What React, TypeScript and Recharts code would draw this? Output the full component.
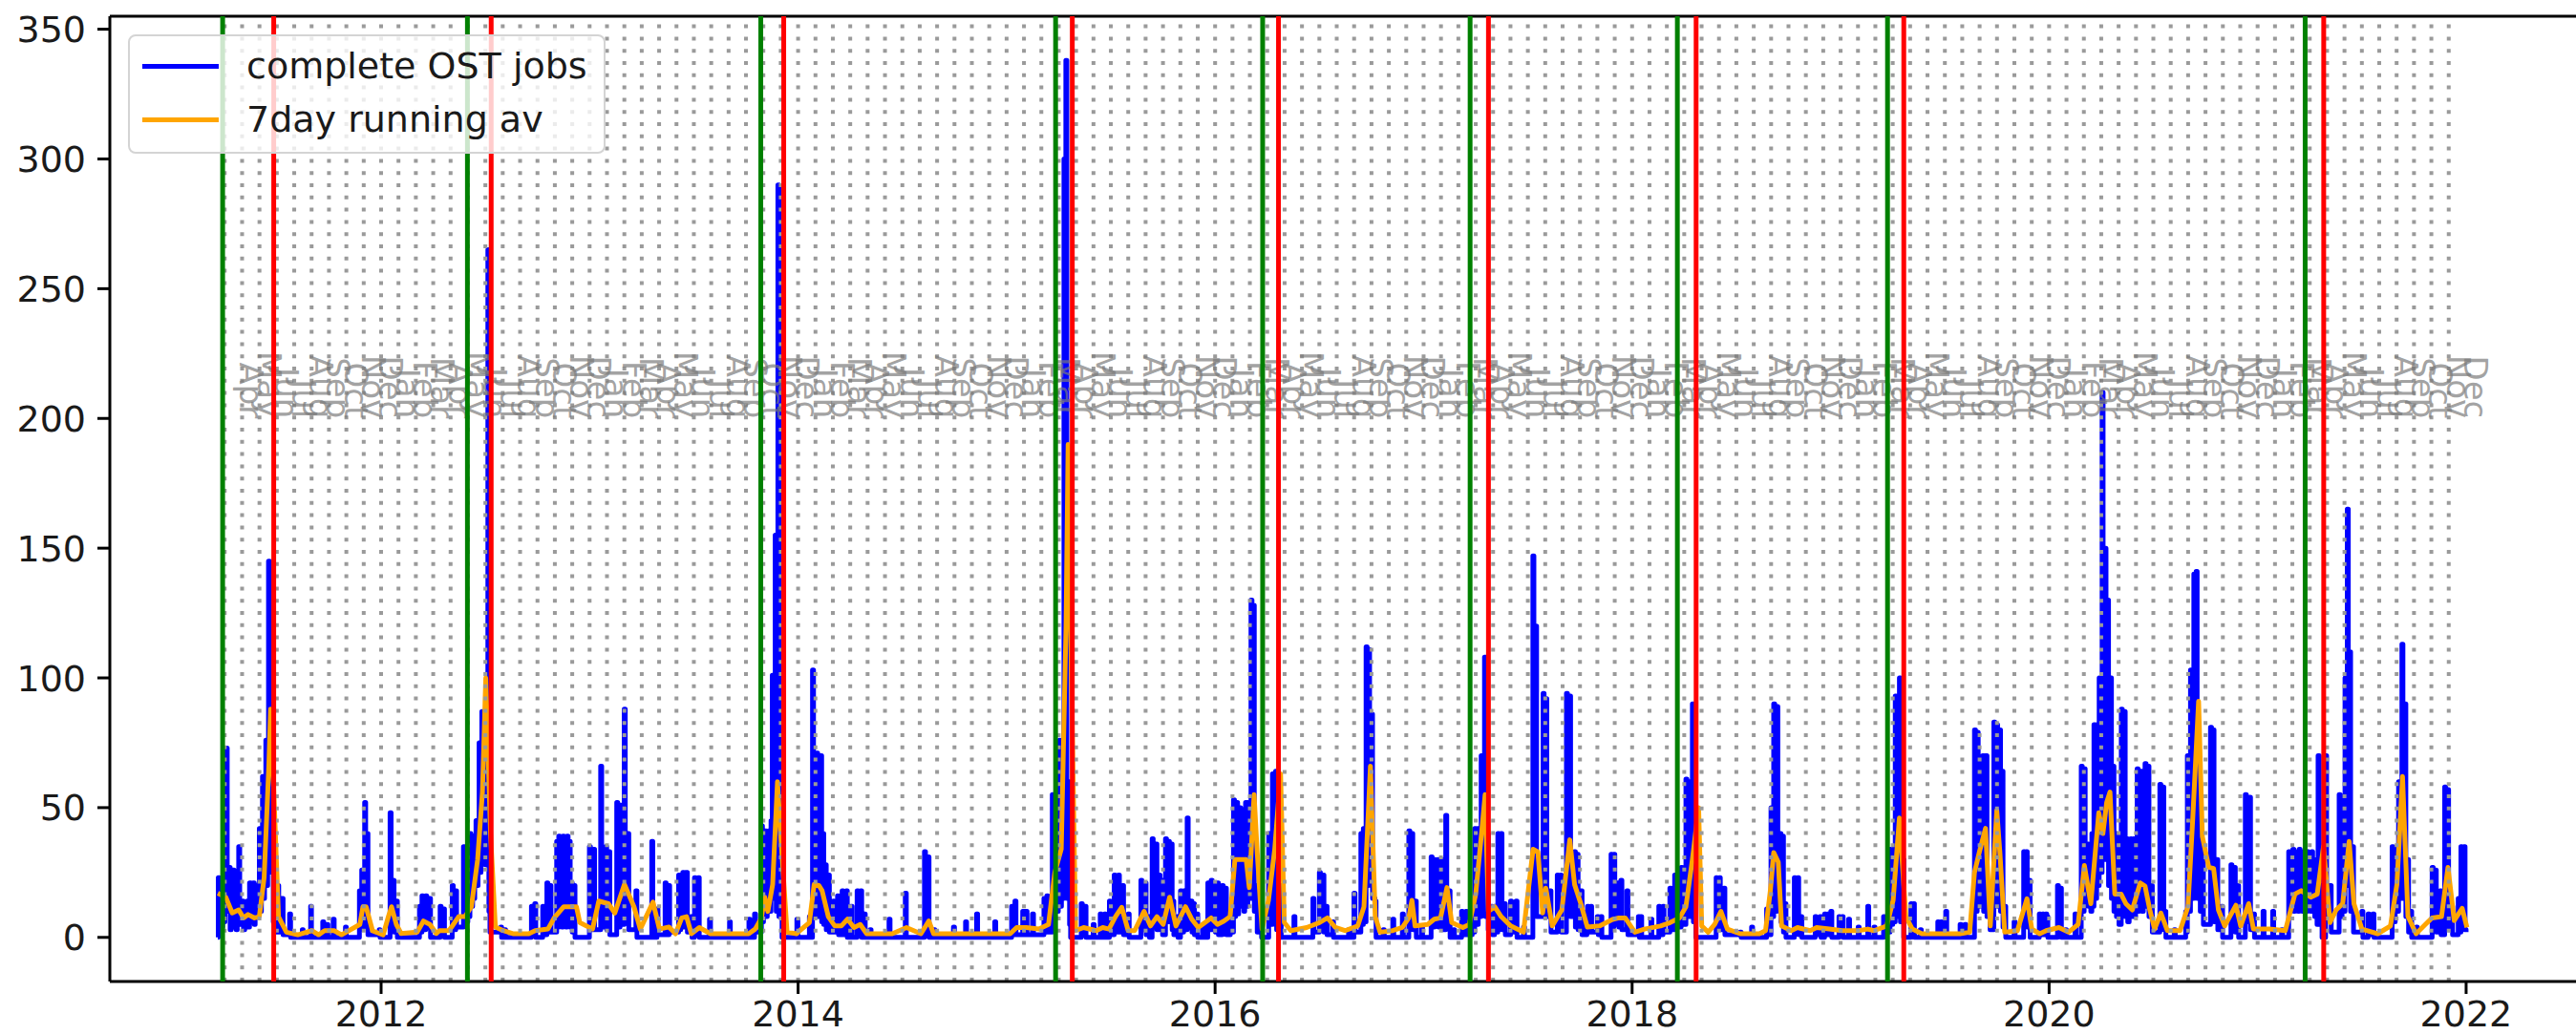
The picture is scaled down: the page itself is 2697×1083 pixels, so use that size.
import React from "react";
import {
  ComposedChart,
  Line,
  Scatter,
  XAxis,
  YAxis,
  ReferenceLine,
  Legend
} from "recharts";

const FONT = "DejaVu Sans";

// complete OST jobs per day, [decimal year, jobs]
const jobs2011 = [
  [2011.217, 0], [2011.219, 23], [2011.225, 5], [2011.23, 18], [2011.235, 4], [2011.24, 20], [2011.245, 6],
  [2011.251, 22], [2011.256, 73], [2011.262, 10], [2011.27, 27], [2011.276, 3], [2011.281, 16], [2011.286, 4],
  [2011.29, 26], [2011.295, 4], [2011.3, 14], [2011.305, 3], [2011.31, 15], [2011.317, 35], [2011.322, 5],
  [2011.327, 12], [2011.333, 14], [2011.34, 3], [2011.346, 12], [2011.351, 4], [2011.357, 14], [2011.363, 4],
  [2011.369, 21], [2011.376, 6], [2011.381, 15], [2011.386, 21], [2011.392, 5], [2011.396, 14], [2011.401, 20],
  [2011.407, 8], [2011.411, 18], [2011.416, 42], [2011.421, 10], [2011.426, 25], [2011.431, 62], [2011.436, 15],
  [2011.441, 30], [2011.447, 76], [2011.452, 20], [2011.456, 40], [2011.46, 145], [2011.465, 30], [2011.47, 90],
  [2011.474, 25], [2011.478, 40], [2011.483, 6], [2011.492, 18], [2011.497, 2], [2011.504, 20], [2011.509, 2],
  [2011.523, 15], [2011.53, 1], [2011.561, 9], [2011.566, 0], [2011.622, 3], [2011.626, 0], [2011.662, 12],
  [2011.666, 0], [2011.72, 6], [2011.725, 0], [2011.74, 5], [2011.745, 0], [2011.77, 7], [2011.775, 0],
  [2011.829, 4], [2011.833, 0], [2011.896, 18], [2011.9, 3], [2011.907, 26], [2011.912, 5], [2011.921, 52],
  [2011.926, 4], [2011.932, 40], [2011.937, 1], [2011.991, 3], [2011.995, 0]
];
const jobs2012 = [
  [2012.043, 48], [2012.048, 6], [2012.057, 22], [2012.062, 2], [2012.073, 14], [2012.078, 0], [2012.184, 12],
  [2012.188, 2], [2012.196, 16], [2012.201, 3], [2012.214, 16], [2012.219, 4], [2012.232, 15], [2012.237, 0],
  [2012.283, 12], [2012.288, 1], [2012.299, 11], [2012.304, 0], [2012.341, 20], [2012.346, 3], [2012.358, 18],
  [2012.362, 4], [2012.395, 35], [2012.4, 8], [2012.405, 25], [2012.41, 6], [2012.416, 30], [2012.421, 8],
  [2012.426, 40], [2012.431, 12], [2012.439, 39], [2012.444, 15], [2012.449, 35], [2012.455, 45], [2012.46, 20],
  [2012.465, 40], [2012.47, 75], [2012.475, 25], [2012.479, 50], [2012.483, 87], [2012.488, 30], [2012.492, 60],
  [2012.496, 86], [2012.5, 28], [2012.506, 60], [2012.512, 265], [2012.517, 10], [2012.522, 2], [2012.574, 4],
  [2012.578, 0], [2012.592, 3], [2012.597, 0], [2012.721, 12], [2012.726, 1], [2012.737, 13], [2012.742, 0],
  [2012.775, 12], [2012.78, 1], [2012.795, 21], [2012.8, 2], [2012.81, 20], [2012.815, 2], [2012.842, 37],
  [2012.847, 4], [2012.852, 39], [2012.857, 5], [2012.862, 38], [2012.867, 4], [2012.872, 39], [2012.877, 5],
  [2012.882, 38], [2012.887, 4], [2012.892, 39], [2012.897, 5], [2012.902, 37], [2012.907, 4], [2012.912, 21],
  [2012.917, 2], [2012.925, 20], [2012.93, 0], [2012.999, 35]
];
const jobs2013 = [
  [2013.004, 3], [2013.019, 34], [2013.024, 3], [2013.053, 66], [2013.058, 4], [2013.077, 35], [2013.082, 3],
  [2013.092, 33], [2013.097, 1], [2013.13, 52], [2013.135, 4], [2013.146, 51], [2013.151, 5], [2013.166, 88],
  [2013.171, 6], [2013.183, 40], [2013.188, 3], [2013.222, 18], [2013.227, 0], [2013.298, 37], [2013.303, 0],
  [2013.323, 11], [2013.328, 1], [2013.362, 21], [2013.367, 1], [2013.381, 20], [2013.384, 2], [2013.427, 24],
  [2013.432, 3], [2013.437, 22], [2013.442, 4], [2013.447, 25], [2013.452, 4], [2013.458, 22], [2013.464, 25],
  [2013.469, 2], [2013.486, 8], [2013.491, 0], [2013.503, 23], [2013.508, 2], [2013.521, 23], [2013.526, 0],
  [2013.575, 7], [2013.58, 0], [2013.671, 6], [2013.675, 0], [2013.764, 7], [2013.769, 0], [2013.791, 9],
  [2013.796, 2], [2013.824, 43], [2013.829, 6], [2013.834, 30], [2013.842, 41], [2013.847, 8], [2013.852, 30],
  [2013.858, 41], [2013.863, 10], [2013.87, 45], [2013.876, 101], [2013.881, 15], [2013.885, 50], [2013.89, 155],
  [2013.895, 10], [2013.899, 60], [2013.903, 290], [2013.908, 8], [2013.918, 30], [2013.923, 0], [2013.994, 7],
  [2013.999, 0]
];
const jobs2014 = [
  [2014.054, 8], [2014.058, 0], [2014.069, 103], [2014.074, 10], [2014.079, 71], [2014.084, 8], [2014.089, 71],
  [2014.094, 8], [2014.099, 70], [2014.104, 8], [2014.108, 70], [2014.113, 6], [2014.118, 40], [2014.123, 5],
  [2014.13, 28], [2014.135, 3], [2014.14, 24], [2014.15, 2], [2014.168, 14], [2014.173, 2], [2014.189, 16],
  [2014.194, 1], [2014.211, 18], [2014.216, 1], [2014.231, 18], [2014.236, 0], [2014.254, 12], [2014.259, 0],
  [2014.283, 18], [2014.288, 1], [2014.3, 18], [2014.305, 0], [2014.317, 9], [2014.322, 0], [2014.345, 3],
  [2014.35, 0], [2014.436, 7], [2014.441, 0], [2014.514, 17], [2014.519, 0], [2014.606, 33], [2014.611, 2],
  [2014.623, 31], [2014.628, 0], [2014.651, 3], [2014.656, 0], [2014.745, 4], [2014.75, 0], [2014.803, 6],
  [2014.808, 0], [2014.856, 9], [2014.861, 0], [2014.943, 6], [2014.948, 0]
];
const jobs2015 = [
  [2015.024, 12], [2015.029, 1], [2015.04, 14], [2015.045, 1], [2015.077, 10], [2015.082, 1], [2015.093, 10],
  [2015.098, 1], [2015.124, 9], [2015.129, 1], [2015.179, 15], [2015.184, 2], [2015.193, 16], [2015.198, 2],
  [2015.219, 55], [2015.224, 8], [2015.229, 40], [2015.234, 10], [2015.239, 64], [2015.244, 10], [2015.248, 50],
  [2015.253, 76], [2015.258, 12], [2015.263, 75], [2015.268, 15], [2015.275, 300], [2015.28, 20], [2015.284, 338],
  [2015.289, 15], [2015.297, 60], [2015.302, 5], [2015.307, 0], [2015.358, 13], [2015.363, 1], [2015.376, 12],
  [2015.381, 0], [2015.415, 5], [2015.42, 0], [2015.449, 9], [2015.454, 0], [2015.47, 9], [2015.475, 0],
  [2015.493, 14], [2015.498, 1], [2015.516, 24], [2015.521, 2], [2015.536, 24], [2015.541, 2], [2015.556, 20],
  [2015.561, 1], [2015.583, 9], [2015.588, 0], [2015.644, 22], [2015.649, 3], [2015.664, 21], [2015.669, 1],
  [2015.68, 8], [2015.685, 0], [2015.698, 38], [2015.703, 5], [2015.716, 36], [2015.721, 3], [2015.731, 24],
  [2015.736, 4], [2015.743, 22], [2015.748, 1], [2015.762, 38], [2015.767, 6], [2015.776, 37], [2015.781, 6],
  [2015.789, 36], [2015.794, 3], [2015.797, 14], [2015.802, 1], [2015.817, 8], [2015.822, 0], [2015.834, 18],
  [2015.839, 2], [2015.849, 18], [2015.854, 3], [2015.866, 46], [2015.871, 4], [2015.884, 14], [2015.889, 2],
  [2015.896, 13], [2015.901, 1], [2015.912, 9], [2015.917, 0], [2015.942, 5], [2015.947, 0], [2015.965, 21],
  [2015.97, 3], [2015.981, 22], [2015.986, 3], [2015.996, 21]
];
const jobs2016 = [
  [2016.001, 2], [2016.011, 21], [2016.016, 1], [2016.034, 20], [2016.039, 2], [2016.049, 19], [2016.054, 1],
  [2016.073, 10], [2016.078, 2], [2016.088, 53], [2016.093, 8], [2016.098, 40], [2016.103, 52], [2016.108, 9],
  [2016.113, 35], [2016.118, 50], [2016.123, 12], [2016.128, 38], [2016.133, 49], [2016.138, 10], [2016.142, 30],
  [2016.146, 52], [2016.151, 12], [2016.157, 40], [2016.162, 52], [2016.167, 15], [2016.172, 130], [2016.177, 20],
  [2016.183, 128], [2016.188, 10], [2016.197, 20], [2016.202, 2], [2016.218, 12], [2016.223, 0], [2016.257, 40],
  [2016.262, 5], [2016.275, 63], [2016.28, 6], [2016.29, 64], [2016.295, 3], [2016.312, 20], [2016.317, 0],
  [2016.378, 8], [2016.383, 0], [2016.469, 15], [2016.474, 2], [2016.5, 25], [2016.505, 3], [2016.517, 24],
  [2016.522, 2], [2016.532, 12], [2016.537, 1], [2016.563, 6], [2016.568, 0], [2016.64, 3], [2016.645, 0],
  [2016.666, 17], [2016.671, 2], [2016.699, 40], [2016.704, 5], [2016.711, 42], [2016.716, 6], [2016.724, 112],
  [2016.729, 20], [2016.736, 111], [2016.741, 25], [2016.75, 86], [2016.755, 15], [2016.767, 14], [2016.772, 0],
  [2016.806, 3], [2016.811, 0], [2016.852, 7], [2016.857, 0], [2016.898, 9], [2016.903, 0], [2016.929, 41],
  [2016.934, 6], [2016.943, 40], [2016.948, 3], [2016.96, 14], [2016.965, 0], [2016.99, 4], [2016.995, 0]
];
const jobs2017 = [
  [2017.036, 31], [2017.041, 4], [2017.052, 30], [2017.057, 5], [2017.067, 30], [2017.072, 4], [2017.082, 30],
  [2017.087, 3], [2017.106, 47], [2017.111, 5], [2017.122, 18], [2017.127, 0], [2017.143, 3], [2017.148, 0],
  [2017.182, 10], [2017.187, 1], [2017.203, 10], [2017.208, 1], [2017.233, 12], [2017.238, 2], [2017.245, 42],
  [2017.25, 5], [2017.262, 42], [2017.267, 8], [2017.276, 70], [2017.281, 10], [2017.292, 108], [2017.297, 8],
  [2017.305, 40], [2017.31, 3], [2017.325, 12], [2017.33, 1], [2017.34, 12], [2017.345, 2], [2017.356, 40],
  [2017.361, 4], [2017.371, 40], [2017.376, 3], [2017.387, 13], [2017.392, 1], [2017.417, 14], [2017.422, 2],
  [2017.443, 14], [2017.448, 0], [2017.479, 4], [2017.484, 0], [2017.524, 147], [2017.529, 10], [2017.537, 120],
  [2017.542, 8], [2017.573, 94], [2017.578, 10], [2017.586, 92], [2017.591, 8], [2017.606, 18], [2017.611, 2],
  [2017.641, 24], [2017.646, 3], [2017.656, 24], [2017.661, 2], [2017.685, 94], [2017.69, 10], [2017.7, 93],
  [2017.705, 8], [2017.723, 33], [2017.728, 4], [2017.736, 32], [2017.741, 3], [2017.755, 18], [2017.76, 1],
  [2017.783, 10], [2017.786, 12], [2017.791, 2], [2017.801, 12], [2017.806, 2], [2017.833, 8], [2017.838, 1],
  [2017.85, 8], [2017.855, 0], [2017.899, 32], [2017.904, 4], [2017.912, 32], [2017.917, 5], [2017.931, 21],
  [2017.936, 4], [2017.946, 22], [2017.951, 3], [2017.975, 18], [2017.98, 1]
];
const jobs2018 = [
  [2018.03, 8], [2018.035, 0], [2018.041, 8], [2018.046, 0], [2018.09, 7], [2018.095, 0], [2018.128, 12],
  [2018.133, 1], [2018.148, 12], [2018.153, 2], [2018.181, 19], [2018.186, 3], [2018.204, 24], [2018.209, 4],
  [2018.235, 27], [2018.24, 5], [2018.258, 61], [2018.263, 8], [2018.274, 60], [2018.279, 8], [2018.289, 90],
  [2018.294, 6], [2018.301, 40], [2018.306, 0], [2018.403, 23], [2018.408, 3], [2018.418, 23], [2018.423, 3],
  [2018.44, 19], [2018.445, 1], [2018.518, 2], [2018.523, 0], [2018.573, 4], [2018.578, 0], [2018.645, 11],
  [2018.65, 1], [2018.666, 50], [2018.671, 8], [2018.679, 90], [2018.684, 10], [2018.694, 89], [2018.699, 15],
  [2018.709, 40], [2018.714, 6], [2018.721, 39], [2018.726, 2], [2018.733, 13], [2018.738, 0], [2018.778, 23],
  [2018.783, 3], [2018.794, 23], [2018.799, 1], [2018.809, 8], [2018.814, 0], [2018.878, 8], [2018.883, 1],
  [2018.901, 8], [2018.906, 0], [2018.923, 9], [2018.928, 1], [2018.937, 9], [2018.942, 1], [2018.953, 10],
  [2018.958, 0], [2018.992, 8], [2018.997, 1]
];
const jobs2019 = [
  [2019.007, 8], [2019.012, 0], [2019.038, 7], [2019.043, 0], [2019.084, 4], [2019.089, 0], [2019.13, 12],
  [2019.135, 0], [2019.16, 4], [2019.165, 0], [2019.206, 8], [2019.211, 1], [2019.222, 8], [2019.227, 2],
  [2019.237, 34], [2019.242, 5], [2019.25, 34], [2019.255, 6], [2019.262, 93], [2019.267, 8], [2019.282, 100],
  [2019.287, 6], [2019.298, 30], [2019.303, 0], [2019.337, 13], [2019.342, 2], [2019.349, 13], [2019.354, 0],
  [2019.382, 3], [2019.387, 0], [2019.466, 6], [2019.471, 0], [2019.481, 6], [2019.486, 0], [2019.504, 10],
  [2019.509, 0], [2019.573, 5], [2019.578, 0], [2019.596, 5], [2019.601, 0], [2019.642, 80], [2019.647, 10],
  [2019.655, 79], [2019.66, 12], [2019.667, 50], [2019.672, 15], [2019.681, 70], [2019.686, 10], [2019.697, 70],
  [2019.702, 8], [2019.712, 21], [2019.717, 3], [2019.735, 83], [2019.74, 15], [2019.748, 82], [2019.753, 12],
  [2019.762, 80], [2019.767, 10], [2019.774, 64], [2019.779, 4], [2019.787, 12], [2019.792, 0], [2019.832, 6],
  [2019.837, 0], [2019.878, 33], [2019.883, 5], [2019.89, 33], [2019.895, 4], [2019.904, 22], [2019.909, 0],
  [2019.953, 9], [2019.958, 1], [2019.969, 9], [2019.974, 1], [2019.984, 9], [2019.989, 8], [2019.994, 0]
];
const jobs2020 = [
  [2020.04, 20], [2020.045, 2], [2020.054, 19], [2020.059, 0], [2020.078, 3], [2020.083, 0], [2020.124, 9],
  [2020.129, 0], [2020.154, 66], [2020.159, 10], [2020.168, 65], [2020.173, 15], [2020.184, 36], [2020.189, 12],
  [2020.195, 30], [2020.2, 10], [2020.205, 40], [2020.21, 12], [2020.215, 82], [2020.22, 15], [2020.228, 82],
  [2020.233, 20], [2020.24, 100], [2020.245, 25], [2020.254, 210], [2020.259, 30], [2020.268, 150], [2020.273, 30],
  [2020.28, 130], [2020.285, 20], [2020.294, 100], [2020.299, 15], [2020.306, 66], [2020.311, 10], [2020.318, 40],
  [2020.323, 8], [2020.33, 36], [2020.335, 5], [2020.346, 88], [2020.351, 10], [2020.36, 87], [2020.365, 8],
  [2020.372, 38], [2020.377, 6], [2020.384, 30], [2020.391, 38], [2020.396, 8], [2020.404, 38], [2020.409, 8],
  [2020.415, 30], [2020.422, 65], [2020.427, 10], [2020.433, 40], [2020.44, 64], [2020.445, 10], [2020.452, 40],
  [2020.46, 67], [2020.465, 12], [2020.469, 40], [2020.474, 66], [2020.479, 8], [2020.49, 20], [2020.495, 2],
  [2020.531, 59], [2020.536, 5], [2020.545, 58], [2020.55, 3], [2020.555, 10], [2020.56, 0], [2020.6, 3],
  [2020.605, 0], [2020.655, 10], [2020.66, 2], [2020.663, 70], [2020.668, 10], [2020.678, 103], [2020.683, 15],
  [2020.694, 140], [2020.699, 20], [2020.705, 141], [2020.71, 15], [2020.72, 60], [2020.725, 10], [2020.735, 35],
  [2020.74, 5], [2020.774, 81], [2020.779, 10], [2020.786, 80], [2020.791, 6], [2020.804, 30], [2020.809, 3],
  [2020.827, 12], [2020.832, 0], [2020.872, 28], [2020.877, 3], [2020.888, 27], [2020.893, 2], [2020.904, 20],
  [2020.909, 0], [2020.941, 55], [2020.946, 6], [2020.961, 54], [2020.966, 3], [2020.98, 9], [2020.985, 0]
];
const jobs2021 = [
  [2021.026, 10], [2021.031, 0], [2021.072, 10], [2021.077, 0], [2021.115, 3], [2021.12, 0], [2021.149, 33],
  [2021.154, 10], [2021.159, 33], [2021.164, 12], [2021.169, 34], [2021.174, 10], [2021.179, 33], [2021.184, 12],
  [2021.189, 33], [2021.194, 10], [2021.199, 34], [2021.204, 12], [2021.209, 33], [2021.214, 10], [2021.219, 32],
  [2021.224, 12], [2021.229, 33], [2021.234, 10], [2021.239, 33], [2021.244, 12], [2021.249, 32], [2021.254, 10],
  [2021.259, 33], [2021.264, 10], [2021.269, 30], [2021.274, 8], [2021.28, 30], [2021.285, 5], [2021.29, 70],
  [2021.296, 5], [2021.304, 20], [2021.309, 0], [2021.326, 70], [2021.331, 8], [2021.348, 20], [2021.353, 2],
  [2021.391, 55], [2021.396, 8], [2021.405, 54], [2021.41, 10], [2021.419, 100], [2021.424, 20], [2021.43, 165],
  [2021.435, 20], [2021.441, 110], [2021.446, 10], [2021.455, 35], [2021.46, 2], [2021.5, 10], [2021.505, 0],
  [2021.53, 9], [2021.535, 1], [2021.553, 9], [2021.558, 0], [2021.645, 35], [2021.65, 6], [2021.66, 34],
  [2021.665, 10], [2021.676, 60], [2021.681, 15], [2021.692, 113], [2021.697, 15], [2021.706, 90], [2021.711, 8],
  [2021.719, 30], [2021.724, 2], [2021.734, 10], [2021.739, 0], [2021.761, 4], [2021.766, 0], [2021.837, 27],
  [2021.842, 4], [2021.852, 26], [2021.857, 2], [2021.875, 18], [2021.88, 1], [2021.897, 58], [2021.902, 6],
  [2021.911, 57], [2021.916, 3], [2021.93, 12], [2021.935, 1], [2021.962, 15], [2021.967, 2], [2021.975, 35],
  [2021.98, 5], [2021.99, 35], [2021.995, 3], [2022.0, 2]
];

// 7 day running average, [decimal year, jobs]
const avg2011 = [
  [2011.217, 17], [2011.255, 15.5], [2011.286, 9.4], [2011.317, 10.6], [2011.34, 7.5], [2011.362, 8.8],
  [2011.393, 7.5], [2011.416, 8], [2011.439, 23], [2011.462, 67], [2011.47, 88], [2011.485, 57], [2011.508, 8],
  [2011.546, 2], [2011.6, 1], [2011.668, 2.6], [2011.7, 1], [2011.729, 2.6], [2011.775, 2.6], [2011.81, 1],
  [2011.898, 5], [2011.913, 11.8], [2011.928, 11.8], [2011.959, 2.5]
];
const avg2012 = [
  [2012.01, 1], [2012.035, 8], [2012.05, 11.8], [2012.073, 5], [2012.096, 1.5], [2012.173, 2], [2012.203, 6.3],
  [2012.234, 5], [2012.265, 1.5], [2012.28, 2.6], [2012.326, 2.6], [2012.372, 8], [2012.402, 8], [2012.433, 11.8],
  [2012.463, 30], [2012.486, 56], [2012.502, 100], [2012.525, 40], [2012.548, 4], [2012.586, 2.6], [2012.632, 1.4],
  [2012.708, 1.4], [2012.739, 2.6], [2012.8, 3.2], [2012.83, 7.5], [2012.876, 11.8], [2012.937, 11.8],
  [2012.953, 5.7]
];
const avg2013 = [
  [2013.014, 3.2], [2013.044, 14], [2013.09, 13], [2013.121, 9.4], [2013.167, 20.4], [2013.213, 11.8],
  [2013.243, 3.2], [2013.304, 13.6], [2013.335, 3.2], [2013.381, 4], [2013.412, 1.4], [2013.442, 7.5],
  [2013.465, 8], [2013.488, 1.4], [2013.526, 3.8], [2013.58, 1.4], [2013.763, 1.4], [2013.794, 3.2],
  [2013.824, 7.5], [2013.84, 15.5], [2013.855, 10], [2013.878, 20.4], [2013.901, 60], [2013.916, 40],
  [2013.947, 2], [2013.993, 1.4]
];
const avg2014 = [
  [2014.008, 2.6], [2014.054, 5.7], [2014.077, 20.4], [2014.1, 20], [2014.115, 18], [2014.145, 8], [2014.176, 4.4],
  [2014.207, 4.4], [2014.237, 7], [2014.268, 3.8], [2014.298, 5], [2014.329, 1.4], [2014.451, 1.4],
  [2014.52, 3.8], [2014.589, 1.4], [2014.627, 6.3], [2014.65, 1.4]
];
const avg2015 = [
  [2015.017, 1.4], [2015.048, 3.8], [2015.094, 3.8], [2015.155, 3.2], [2015.201, 5], [2015.231, 25],
  [2015.262, 34], [2015.285, 120], [2015.295, 190], [2015.311, 100], [2015.331, 2.6], [2015.369, 3.8],
  [2015.43, 2.6], [2015.461, 3.8], [2015.491, 3.2], [2015.522, 8], [2015.552, 11.6], [2015.583, 2.6],
  [2015.614, 2.6], [2015.659, 10], [2015.69, 4.4], [2015.721, 8], [2015.751, 5], [2015.782, 15.5],
  [2015.812, 4.4], [2015.858, 11.8], [2015.889, 6.9], [2015.919, 3.8], [2015.981, 7.5]
];
const avg2016 = [
  [2016.011, 5], [2016.042, 6.3], [2016.072, 8], [2016.095, 30], [2016.149, 30], [2016.164, 19.2],
  [2016.187, 55], [2016.202, 32.7], [2016.225, 3.2], [2016.256, 14.3], [2016.286, 34], [2016.314, 63],
  [2016.332, 5.7], [2016.363, 2.6], [2016.439, 3.8], [2016.5, 5.7], [2016.539, 7.5], [2016.577, 3.8],
  [2016.623, 2.6], [2016.684, 4.4], [2016.714, 11.8], [2016.745, 66], [2016.768, 8], [2016.791, 2],
  [2016.852, 2.6], [2016.898, 3.8], [2016.929, 7.5], [2016.944, 14.3], [2016.959, 4.4]
];
const avg2017 = [
  [2017.02, 5], [2017.051, 7], [2017.081, 7.5], [2017.112, 19.2], [2017.135, 5.7], [2017.188, 3.8],
  [2017.219, 5], [2017.25, 16.7], [2017.28, 42], [2017.295, 55], [2017.311, 10], [2017.341, 11.8],
  [2017.372, 8], [2017.418, 4.4], [2017.479, 2], [2017.525, 34], [2017.548, 33], [2017.571, 9.4],
  [2017.586, 19], [2017.617, 4.4], [2017.663, 10.6], [2017.701, 37.6], [2017.724, 20.4], [2017.754, 13],
  [2017.785, 4], [2017.845, 4.4], [2017.906, 6.9], [2017.937, 7.5], [2017.967, 7.5]
];
const avg2018 = [
  [2018.013, 2], [2018.059, 3.2], [2018.136, 4.4], [2018.182, 5.7], [2018.227, 7.5], [2018.258, 11.8],
  [2018.289, 30], [2018.319, 50], [2018.334, 4.4], [2018.365, 2], [2018.396, 5], [2018.426, 10],
  [2018.457, 3.2], [2018.518, 1.4], [2018.61, 1.4], [2018.64, 2.6], [2018.663, 18], [2018.679, 32.7],
  [2018.701, 29], [2018.717, 4.4], [2018.763, 2.6], [2018.793, 3.8], [2018.854, 2.6], [2018.885, 3.8],
  [2018.946, 3.2]
];
const avg2019 = [
  [2019.007, 2.6], [2019.084, 2.6], [2019.13, 3.2], [2019.16, 2.6], [2019.221, 4.4], [2019.252, 14.3],
  [2019.282, 46], [2019.313, 8], [2019.344, 3.2], [2019.39, 1.4], [2019.573, 1.4], [2019.619, 2],
  [2019.642, 25], [2019.665, 32.7], [2019.695, 42], [2019.718, 4.4], [2019.749, 49], [2019.764, 32.7],
  [2019.787, 2], [2019.848, 2.6], [2019.894, 14.9], [2019.917, 3.2], [2019.955, 1.4], [2019.986, 2.6]
];
const avg2020 = [
  [2020.047, 3.8], [2020.093, 2], [2020.139, 5], [2020.169, 27.7], [2020.2, 13], [2020.238, 48],
  [2020.258, 40], [2020.276, 52], [2020.292, 56], [2020.315, 16.7], [2020.345, 16.7], [2020.368, 13],
  [2020.399, 10.6], [2020.437, 21], [2020.46, 19.8], [2020.483, 10.6], [2020.506, 3.2], [2020.536, 9.4],
  [2020.567, 2.6], [2020.628, 2.6], [2020.666, 11.8], [2020.689, 46], [2020.717, 91], [2020.735, 38.8],
  [2020.766, 27], [2020.789, 26.5], [2020.812, 10.6], [2020.842, 4.4], [2020.896, 12.4], [2020.919, 4.4],
  [2020.957, 13], [2020.98, 3.2]
];
const avg2021 = [
  [2021.056, 3.2], [2021.133, 2.6], [2021.179, 16.7], [2021.209, 18], [2021.255, 15.5], [2021.286, 16.7],
  [2021.316, 35], [2021.347, 5.7], [2021.377, 10.6], [2021.408, 13], [2021.439, 37], [2021.462, 13],
  [2021.5, 3.2], [2021.576, 1.4], [2021.637, 4.4], [2021.668, 20.4], [2021.695, 62], [2021.721, 8.1],
  [2021.76, 1.4], [2021.836, 7.5], [2021.882, 8], [2021.913, 27], [2021.943, 6.5], [2021.981, 11.2],
  [2022.004, 3.8]
];

// term markers (decimal years)
const greenDates = [2011.24, 2012.414, 2013.821, 2015.235, 2016.228, 2017.223, 2018.217, 2019.225, 2021.228];
const redDates = [2011.485, 2012.528, 2013.931, 2015.315, 2016.304, 2017.311, 2018.307, 2019.303, 2021.317];

const monthNames = ["Jan", "Feb", "Mar", "Apr", "May", "Jun", "Jul", "Aug", "Sep", "Oct", "Nov", "Dec"];
const firstYear = 2011;
const firstMonthIdx = 3; // Apr 2011
const lastYear = 2021;
const monthLabelLevel = 200;

const yTicks = [0, 50, 100, 150, 200, 250, 300, 350];
const xTicks = [2012, 2014, 2016, 2018, 2020, 2022];

const toPoints = (rows: number[][]) => rows.map(([t, v]) => ({ t, v }));

const jobData = toPoints([
  ...jobs2011, ...jobs2012, ...jobs2013, ...jobs2014, ...jobs2015, ...jobs2016,
  ...jobs2017, ...jobs2018, ...jobs2019, ...jobs2020, ...jobs2021
]);
const avgData = toPoints([
  ...avg2011, ...avg2012, ...avg2013, ...avg2014, ...avg2015, ...avg2016,
  ...avg2017, ...avg2018, ...avg2019, ...avg2020, ...avg2021
]);

// month starts + mid-month labels
const months: { t: number; mid: number; v: number; name: string }[] = [];
for (let y = firstYear; y <= lastYear; y++) {
  for (let m = 0; m < 12; m++) {
    if (y === firstYear && m < firstMonthIdx) continue;
    months.push({ t: y + m / 12, mid: y + (m + 0.5) / 12, v: monthLabelLevel, name: monthNames[m] });
  }
}
const monthLabelData = months.map((m) => ({ t: m.mid, v: m.v, name: m.name }));

const legendItems = [
  { label: "complete OST jobs", color: "#0000ff" },
  { label: "7day running av", color: "#ffa500" }
];

function LegendBox() {
  return (
    <div
      style={{
        position: "relative",
        width: 500,
        height: 125,
        boxSizing: "border-box",
        border: "2px solid #d4d4d4",
        borderRadius: 8,
        background: "rgba(255,255,255,0.8)",
        fontFamily: FONT,
        fontSize: 38,
        color: "#1a1a1a"
      }}
    >
      {legendItems.map((it, i) => (
        <div
          key={it.label}
          style={{ position: "absolute", left: 0, top: 6 + i * 56, height: 50, display: "flex", alignItems: "center" }}
        >
          <div style={{ marginLeft: 13, width: 80, height: 5, background: it.color }} />
          <span style={{ marginLeft: 29, lineHeight: "50px", whiteSpace: "nowrap" }}>{it.label}</span>
        </div>
      ))}
    </div>
  );
}

// rotated month name, reads top to bottom, ends at the label level
const MonthLabel = (props: any) => {
  const { cx, cy, payload } = props;
  if (cx == null || cy == null) return null;
  const x = cx + 7;
  return (
    <text
      x={x}
      y={cy}
      transform={`rotate(90 ${x} ${cy})`}
      textAnchor="end"
      fontFamily={FONT}
      fontSize={34}
      fill="#7a7a7a"
      fillOpacity={0.7}
    >
      {payload.name}
    </text>
  );
};

export default function App() {
  return (
    <div style={{ position: "absolute", left: 0, top: 0, width: 2697, height: 1083, background: "#fff" }}>
      <ComposedChart width={2697} height={1083} margin={{ top: 17, right: 0, bottom: 0, left: 0 }}>
        <XAxis
          dataKey="t"
          type="number"
          domain={[2010.699, 2022.527]}
          allowDataOverflow
          ticks={xTicks}
          interval={0}
          height={55}
          tickSize={13}
          tickMargin={7}
          tick={{ fontSize: 38, fill: "#1a1a1a", fontFamily: FONT }}
          axisLine={{ stroke: "#000", strokeWidth: 3 }}
          tickLine={{ stroke: "#000", strokeWidth: 3 }}
        />
        <YAxis
          type="number"
          domain={[-17, 355]}
          allowDataOverflow
          ticks={yTicks}
          interval={0}
          width={115}
          tickSize={13}
          tickMargin={12}
          tick={{ fontSize: 38, fill: "#1a1a1a", fontFamily: FONT }}
          axisLine={{ stroke: "#000", strokeWidth: 3 }}
          tickLine={{ stroke: "#000", strokeWidth: 3 }}
        />
        <ReferenceLine y={355} stroke="#000" strokeWidth={3} ifOverflow="visible" />

        <Line
          data={jobData}
          dataKey="v"
          type="stepAfter"
          stroke="#0000ff"
          strokeWidth={5}
          strokeLinejoin="round"
          dot={false}
          activeDot={false}
          isAnimationActive={false}
        />
        <Line
          data={avgData}
          dataKey="v"
          type="linear"
          stroke="#ffa500"
          strokeWidth={5}
          strokeLinejoin="round"
          dot={false}
          activeDot={false}
          isAnimationActive={false}
        />

        {months.map((m) => (
          <ReferenceLine
            key={"m" + m.t}
            x={m.t}
            stroke="#9a9a9a"
            strokeWidth={4}
            strokeDasharray="4 8.8"
            zIndex={450}
          />
        ))}

        <Scatter
          data={monthLabelData}
          dataKey="v"
          shape={MonthLabel}
          isAnimationActive={false}
          legendType="none"
        />

        {greenDates.map((d) => (
          <ReferenceLine key={"g" + d} x={d} stroke="#008000" strokeWidth={5} zIndex={700} />
        ))}
        {redDates.map((d) => (
          <ReferenceLine key={"r" + d} x={d} stroke="#ff0000" strokeWidth={5} zIndex={700} />
        ))}

        <Legend
          layout="vertical"
          align="center"
          verticalAlign="middle"
          content={() => <LegendBox />}
          wrapperStyle={{ left: 134, top: 36, width: "auto", height: "auto" }}
        />
      </ComposedChart>
    </div>
  );
}
